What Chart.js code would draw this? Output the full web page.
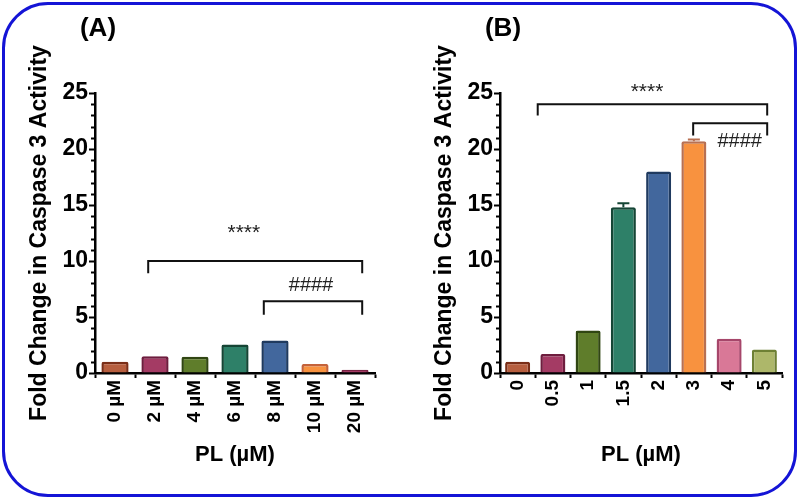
<!DOCTYPE html>
<html>
<head>
<meta charset="utf-8">
<script src="https://cdn.jsdelivr.net/npm/chart.js@4.4.1/dist/chart.umd.min.js"></script>
<style>
  body { margin: 0; background: #fff; }
  #wrap { position: relative; width: 800px; height: 499px; overflow: hidden; }
  .frame { position: absolute; left: 2px; top: 2px; width: 789px; height: 489px;
           border: 3px solid #1414d6; border-radius: 46px; }
  canvas { position: absolute; top: 0; }
</style>
</head>
<body>
<div id="wrap">
  <div class="frame"></div>
  <canvas id="chartA" width="400" height="499" style="left:0px"></canvas>
  <canvas id="chartB" width="400" height="499" style="left:400px"></canvas>
</div>
<script>
// panel A data
const labelsA = ['0 µM', '2 µM', '4 µM', '6 µM', '8 µM', '10 µM', '20 µM'];
const valuesA = [1.0, 1.5, 1.45, 2.55, 2.9, 0.8, 0.3];
const errorsA = [0, 0, 0, 0, 0, 0, 0];
const fillA   = ['#b75e3e', '#a43b64', '#5f7d2b', '#2e8068', '#42679d', '#f8923f', '#a43b64'];
const edgeA   = ['#7a2e17', '#6e1d3e', '#304612', '#154535', '#1f3a5f', '#c4623a', '#7a2344'];

// panel B data
const labelsB = ['0', '0.5', '1', '1.5', '2', '3', '4', '5'];
const valuesB = [1.0, 1.7, 3.8, 14.8, 18.0, 20.7, 3.05, 2.1];
const errorsB = [0, 0, 0, 0.35, 0, 0.15, 0, 0];
const fillB   = ['#b75e3e', '#a43b64', '#5f7d2b', '#2e8068', '#42679d', '#f8923f', '#d97897', '#adb76a'];
const edgeB   = ['#7a2e17', '#6e1d3e', '#304612', '#154535', '#1f3a5f', '#b87052', '#a6466a', '#6e8034'];

// y ticks (major every 5, minor every 1)
const yMax = 25;
const yStep = 5;

// significance brackets: [from index, to index, bar level, leg end, label, label index, label level]
const bracketsA = [
  [0.83, 6.18, 10.0, 8.9, '****', 3.22, 12.5],
  [3.72, 6.18, 6.4, 5.2, '####', 4.9, 7.8]
];
const bracketsB = [
  [0.57, 7.08, 24.0, 23.0, '****', 3.67, 25.1],
  [4.98, 7.08, 22.3, 21.2, '####', 6.3, 20.7]
];

const FONT = 'Arial, "Liberation Sans", sans-serif';

function makeChart(id, panel, labels, values, errors, fills, edges, brackets, pad, barPct) {
  const extras = {
    id: 'extras' + panel,
    afterDraw(chart) {
      const ctx = chart.ctx;
      const x = chart.scales.x, y = chart.scales.y;
      ctx.save();
      // minor ticks on y axis
      ctx.strokeStyle = '#000';
      ctx.lineWidth = 2;
      for (let v = 1; v < yMax; v++) {
        if (v % yStep === 0) continue;
        const py = Math.round(y.getPixelForValue(v)) + 0.5;
        ctx.beginPath();
        ctx.moveTo(x.left - 4, py);
        ctx.lineTo(x.left, py);
        ctx.stroke();
      }
      // error bars
      values.forEach((v, i) => {
        if (!errors[i]) return;
        const px = x.getPixelForValue(i);
        const top = y.getPixelForValue(v + errors[i]);
        const base = y.getPixelForValue(v);
        ctx.strokeStyle = edges[i];
        ctx.lineWidth = 2;
        ctx.beginPath();
        ctx.moveTo(px, base);
        ctx.lineTo(px, top);
        ctx.moveTo(px - 6, top);
        ctx.lineTo(px + 6, top);
        ctx.stroke();
      });
      // brackets
      ctx.strokeStyle = '#111';
      ctx.lineWidth = 2;
      ctx.fillStyle = '#222';
      ctx.textAlign = 'center';
      ctx.textBaseline = 'middle';
      brackets.forEach(b => {
        const x1 = x.getPixelForValue(b[0]), x2 = x.getPixelForValue(b[1]);
        const yl = y.getPixelForValue(b[2]), ye = y.getPixelForValue(b[3]);
        ctx.beginPath();
        ctx.moveTo(x1, ye);
        ctx.lineTo(x1, yl);
        ctx.lineTo(x2, yl);
        ctx.lineTo(x2, ye);
        ctx.stroke();
        ctx.font = (b[4] === '****' ? '21px ' : '20px ') + FONT;
        ctx.fillText(b[4], x.getPixelForValue(b[5]), y.getPixelForValue(b[6]));
      });
      // panel label
      ctx.fillStyle = '#000';
      ctx.font = 'bold 26px ' + FONT;
      ctx.fillText('(' + panel + ')', x.left + 3, 29);
      ctx.restore();
    }
  };

  return new Chart(document.getElementById(id), {
    type: 'bar',
    data: {
      labels: labels,
      datasets: [{
        data: values,
        backgroundColor: fills,
        borderColor: edges,
        borderWidth: 2.5,
        borderRadius: 2,
        barPercentage: barPct,
        categoryPercentage: 1
      }]
    },
    options: {
      responsive: false,
      animation: false,
      layout: { padding: pad },
      plugins: { legend: { display: false }, tooltip: { enabled: false } },
      scales: {
        x: {
          afterFit: s => { s.height = 126; },
          grid: { drawOnChartArea: false, drawTicks: true, tickLength: 5, tickWidth: 2, tickColor: '#000' },
          border: { color: '#000', width: 2.5 },
          ticks: { color: '#000', font: { family: FONT, size: 19, weight: 'bold' },
                   minRotation: 90, maxRotation: 90, padding: 2, autoSkip: false },
          title: { display: true, text: 'PL (µM)', color: '#000',
                   font: { family: FONT, size: 22, weight: 'bold' }, padding: { top: 0, bottom: 31 } }
        },
        y: {
          min: 0, max: yMax,
          afterFit: s => { s.width = 95; },
          grid: { drawOnChartArea: false, drawTicks: true, tickLength: 6, tickWidth: 2, tickColor: '#000' },
          border: { color: '#000', width: 2.5 },
          ticks: { stepSize: yStep, color: '#000', padding: 1,
                   font: { family: FONT, size: 23, weight: 'bold' } },
          title: { display: true, text: 'Fold Change in Caspase 3 Activity', color: '#000',
                   font: { family: FONT, size: 23, weight: 'bold' }, padding: { top: 26, bottom: 0 } }
        }
      }
    },
    plugins: [extras]
  });
}

makeChart('chartA', 'A', labelsA, valuesA, errorsA, fillA, edgeA, bracketsA,
          { top: 93, right: 25, left: 0, bottom: 0 }, 0.68);
makeChart('chartB', 'B', labelsB, valuesB, errorsB, fillB, edgeB, bracketsB,
          { top: 93, right: 18, left: 5, bottom: 0 }, 0.71);
</script>
</body>
</html>
